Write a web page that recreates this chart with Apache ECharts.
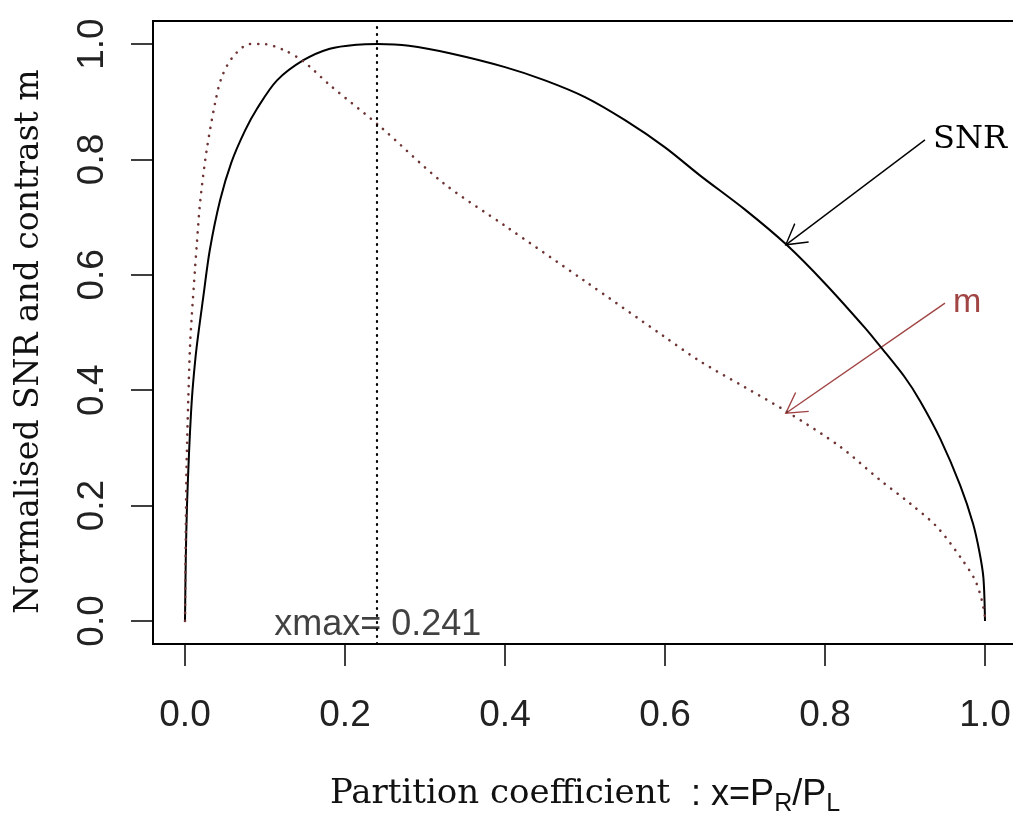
<!DOCTYPE html>
<html><head><meta charset="utf-8">
<script src="https://cdn.jsdelivr.net/npm/echarts@6/dist/echarts.min.js"></script>
<style>html,body{margin:0;padding:0;background:#fff}#c{width:1013px;height:821px}</style>
</head><body><div id="c"></div>
<script>
// ---- data ----
const xTicks = [0, 0.2, 0.4, 0.6, 0.8, 1.0];
const yTicks = [0, 0.2, 0.4, 0.6, 0.8, 1.0];

const snrX = [0, 0.001, 0.0025, 0.005, 0.0075, 0.01, 0.0146, 0.0229, 0.031, 0.044, 0.058, 0.075, 0.09, 0.115, 0.148, 0.181, 0.215, 0.241, 0.28, 0.331, 0.4, 0.45, 0.5, 0.55, 0.6, 0.644, 0.7, 0.752, 0.8, 0.85, 0.869, 0.9, 0.919, 0.944, 0.969, 0.985, 0.993, 0.998, 1.0];
const snrY = [0, 0.11, 0.2, 0.29, 0.36, 0.41, 0.475, 0.562, 0.643, 0.73, 0.795, 0.85, 0.888, 0.937, 0.972, 0.992, 0.999, 1.0, 0.997, 0.984, 0.96, 0.937, 0.908, 0.868, 0.821, 0.772, 0.713, 0.652, 0.585, 0.508, 0.476, 0.422, 0.381, 0.316, 0.235, 0.169, 0.12, 0.075, 0];

const mX = [0, 0.001, 0.002, 0.004, 0.00625, 0.0083, 0.0125, 0.0146, 0.019, 0.027, 0.0375, 0.046, 0.06, 0.081, 0.098, 0.123, 0.148, 0.181, 0.244, 0.323, 0.4, 0.5, 0.6, 0.644, 0.7, 0.752, 0.819, 0.869, 0.906, 0.94, 0.969, 0.9875, 0.996, 1.0];
const mY = [0, 0.15, 0.27, 0.38, 0.475, 0.525, 0.61, 0.65, 0.727, 0.815, 0.897, 0.943, 0.978, 1.0, 1.0, 0.99, 0.97, 0.929, 0.857, 0.759, 0.685, 0.589, 0.492, 0.45, 0.405, 0.363, 0.302, 0.244, 0.204, 0.163, 0.111, 0.071, 0.036, 0.007];

const xmax = 0.241;
const xmaxLabel = 'xmax= 0.241';
// annotation arrows: [fromX, fromY, toX, toY]
const snrArrow = [0.925, 0.834, 0.751, 0.652];
const mArrow = [0.95, 0.551, 0.751, 0.360];
const arrowTexts = ['SNR', 'm'];

const SERIF = "'DejaVu Serif', 'Liberation Serif', serif";
const SANS = "'Liberation Sans', Arial, sans-serif";
const MCOL = '#6e3434';
const ACOL = '#a04444';

const chart = echarts.init(document.getElementById('c'), null, {renderer: 'canvas'});

function arrowItem(params, api) {
  const p0 = api.coord([api.value(0), api.value(1)]);
  const p1 = api.coord([api.value(2), api.value(3)]);
  const idx = params.dataIndex;
  const col = idx === 0 ? '#000' : ACOL;
  const ang = Math.atan2(p0[1] - p1[1], p0[0] - p1[0]);
  const L = 23, a = Math.PI / 6;
  const h1 = [p1[0] + L * Math.cos(ang + a), p1[1] + L * Math.sin(ang + a)];
  const h2 = [p1[0] + L * Math.cos(ang - a), p1[1] + L * Math.sin(ang - a)];
  const txt = arrowTexts[idx];
  return {
    type: 'group',
    children: [
      {type: 'line', shape: {x1: p0[0], y1: p0[1], x2: p1[0], y2: p1[1]}, style: {stroke: col, lineWidth: 1.4}},
      {type: 'polyline', shape: {points: [h1, p1, h2]}, style: {stroke: col, lineWidth: 1.4, fill: null}},
      {type: 'text', x: p0[0] + 8, y: p0[1], style: {
        text: txt, fill: idx === 0 ? '#000' : ACOL,
        font: idx === 0 ? ('32px ' + SERIF) : ('34px ' + SANS),
        align: 'left', verticalAlign: 'middle'}}
    ]
  };
}

const option = {
  animation: false,
  backgroundColor: '#fff',
  grid: {left: 153, top: 21, width: 864, height: 623, show: true, borderColor: '#000', borderWidth: 2,
    backgroundColor: 'transparent', outerBoundsMode: 'none', containLabel: false},
  xAxis: {
    type: 'value', min: -0.04, max: 1.04,
    splitLine: {show: false},
    axisLine: {show: false, onZero: false},
    axisTick: {show: true, inside: false, length: 22, lineStyle: {color: '#000', width: 1.5}, customValues: xTicks},
    axisLabel: {customValues: xTicks, margin: 53, color: '#222', fontFamily: SANS, fontSize: 37,
      formatter: v => v.toFixed(1)},
    name: '{s|Partition coefficient }{n| : x=P}{sub|R}{n|/P}{sub|L}',
    nameLocation: 'middle', nameGap: 133,
    nameTextStyle: {
      rich: {
        s: {fontFamily: SERIF, fontSize: 34, color: '#111', lineHeight: 40, verticalAlign: 'top'},
        n: {fontFamily: SANS, fontSize: 36, color: '#111', lineHeight: 40, verticalAlign: 'top'},
        sub: {fontFamily: SANS, fontSize: 25, color: '#111', lineHeight: 25, padding: [25, 0, 0, 0], verticalAlign: 'bottom'}
      }
    }
  },
  yAxis: {
    type: 'value', min: -0.04, max: 1.04,
    splitLine: {show: false},
    axisLine: {show: false, onZero: false},
    axisTick: {show: true, inside: false, length: 22, lineStyle: {color: '#000', width: 1.5}, customValues: yTicks},
    axisLabel: {customValues: yTicks, rotate: 90, margin: 42, color: '#222', fontFamily: SANS, fontSize: 37,
      formatter: v => v.toFixed(1)},
    name: 'Normalised SNR and contrast m',
    nameLocation: 'middle', nameRotate: 90, nameGap: 107,
    nameTextStyle: {fontFamily: SERIF, fontSize: 33, color: '#111', padding: [0, 18, 0, 0]}
  },
  series: [
    {
      type: 'line', name: 'SNR', data: snrX.map((x, i) => [x, snrY[i]]),
      showSymbol: false, smooth: 0.3, lineStyle: {color: '#000', width: 2},
      markLine: {
        silent: true, symbol: 'none', label: {show: false},
        lineStyle: {color: '#000', type: [1, 6], width: 2.2, cap: 'round'},
        data: [{xAxis: xmax}]
      }
    },
    {
      type: 'line', name: 'm', data: mX.map((x, i) => [x, mY[i]]),
      showSymbol: false, smooth: 0.3,
      lineStyle: {color: MCOL, width: 2.6, type: [0.1, 8], cap: 'round'}
    },
    {
      type: 'scatter', data: [[xmax, 0]], symbolSize: 0, silent: true,
      label: {show: true, position: 'inside', formatter: xmaxLabel, fontFamily: SANS, fontSize: 36, color: '#111', offset: [0, 4]}
    },
    {
      type: 'custom', renderItem: arrowItem, silent: true, clip: false,
      data: [snrArrow, mArrow]
    }
  ]
};
chart.setOption(option);
</script>
</body></html>
